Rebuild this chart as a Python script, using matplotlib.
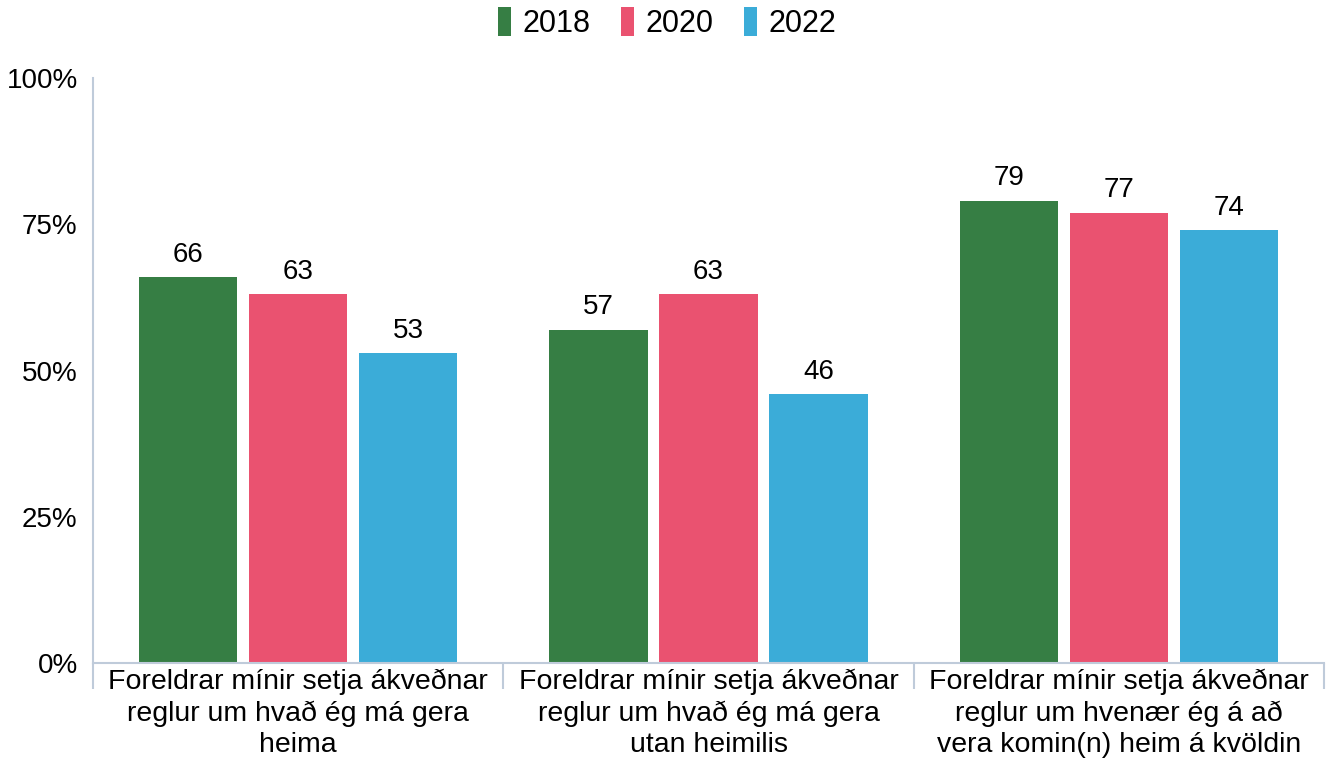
import matplotlib.pyplot as plt
import numpy as np

plt.rcParams['font.family'] = ['Liberation Sans', 'DejaVu Sans']

categories = [
    "Foreldrar mínir setja ákveðnar\nreglur um hvað ég má gera\nheima",
    "Foreldrar mínir setja ákveðnar\nreglur um hvað ég má gera\nutan heimilis",
    "Foreldrar mínir setja ákveðnar\nreglur um hvenær ég á að\nvera komin(n) heim á kvöldin",
]
years = ["2018", "2020", "2022"]
v2018 = [66, 57, 79]
v2020 = [63, 63, 77]
v2022 = [53, 46, 74]
colors = ["#367E44", "#EA5270", "#3BACD8"]

fig = plt.figure(figsize=(13.35, 7.65), dpi=100)
ax = fig.add_axes([93 / 1335, 1 - 663 / 765, (1324 - 93) / 1335, (663 - 78) / 765])

x = np.arange(len(categories))
w = 0.239
off = 0.268
for i, (vals, yr) in enumerate(zip([v2018, v2020, v2022], years)):
    bars = ax.bar(x + (i - 1) * off, vals, w, color=colors[i], label=yr)
    for b, v in zip(bars, vals):
        ax.text(b.get_x() + b.get_width() / 2, v + 1.6, str(v),
                ha="center", va="bottom", fontsize=20)

ax.set_xlim(-0.5, 2.5)
ax.set_ylim(0, 100)
ax.set_yticks([0, 25, 50, 75, 100])
ax.set_yticklabels(["0%", "25%", "50%", "75%", "100%"], fontsize=20)
ax.tick_params(axis="y", length=0, pad=11)

ax.set_xticks(x)
ax.set_xticklabels(categories, fontsize=20.5, linespacing=1.27)
ax.tick_params(axis="x", length=0, pad=4)
# separator ticks between categories
ax.set_xticks([-0.5, 0.5, 1.5, 2.5], minor=True)
ax.tick_params(axis="x", which="minor", length=19, color="#BFCBDA", width=1.5)

for s in ["top", "right"]:
    ax.spines[s].set_visible(False)
ax.spines["left"].set_color("#BFCBDA")
ax.spines["bottom"].set_color("#BFCBDA")
ax.spines["left"].set_linewidth(1.5)
ax.spines["bottom"].set_linewidth(1.5)

handles, labels = ax.get_legend_handles_labels()
fig.legend(handles, labels, loc="upper center", bbox_to_anchor=(0.5, 1.027), ncol=3,
           frameon=False, fontsize=22, handlelength=0.4, handleheight=1.1,
           handletextpad=0.4, columnspacing=1.0)

fig.savefig("out.png", dpi=100)
